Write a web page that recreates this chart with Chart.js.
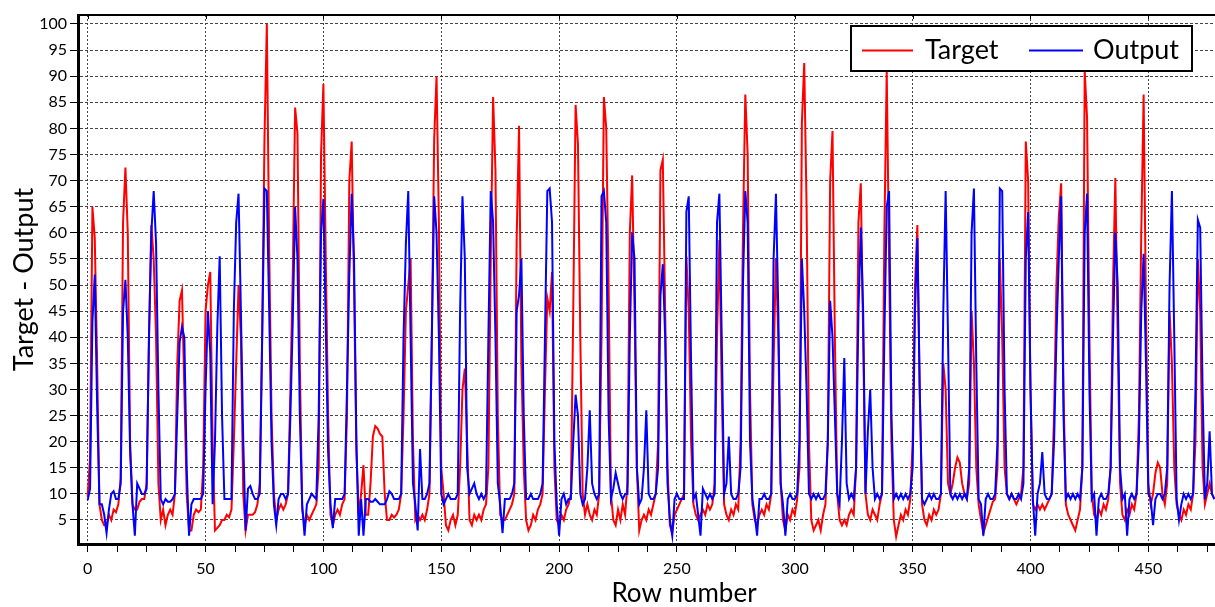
<!DOCTYPE html>
<html><head><meta charset="utf-8">
<script src="https://cdn.jsdelivr.net/npm/chart.js@4.4.1/dist/chart.umd.min.js"></script>
<style>
html,body{margin:0;padding:0;background:#fff;overflow:hidden;width:1215px;height:607px;}
#wrap{width:1215px;height:607px;overflow:hidden;position:relative;}
canvas{display:block;}
</style></head><body>
<div id="wrap"><canvas id="c" width="1290" height="607"></canvas></div>
<script>
// ---- data ----
const target = [
9.5,17,65,59,35,8,5,4,4,6,
5,7,6.5,8,13,62,72.5,60,20,8,
7,7,8.5,9,9,12,40,61.5,55,40,
12,5,7,4,6,7,6,10,35,47,
49,30,10,3,3,6,7,6.5,7,15,
45,50,52.5,20,3,3.5,4,5,5,6,
5.5,7,20,35,50,40,10,3,6,6,
6,6.5,8,12,40,78,100,57,25,10,
5,7,8,7,8,10,30,52,84,79,
35,7,4,6,5,6,7,8,15,75,
88.5,55,25,6,4,6,7,6,8,9,
25,70,77.5,50,18,6,10,15.5,6,6,
12,21,23,22.5,21.5,21,10,5,5,6,
5.5,6,7,10,25,45,50,55,20,5,
6,5,6,5,7,10,40,78,90,62,
15,10,4,3,5,6,4,6,15,30,
34,20,5,4,6,5,6,5,7,8,
15,55,86,72,25,6,5,5,6,7,
8,10,59,80.5,35,15,5,3,4,6,
5,7,8,10,30,47.5,45,52.5,15,5,
4,6,5,7,8,10,45,84.5,77,40,
10,6,8,6,5,7,6,10,40,86,
80,50,10,5,4,7,5,8,6,12,
60,71,45,15,3,5,6,5,7,6,
8,10,20,72,74,45,15,4,2.5,6,
7,8,9,10,55.5,45,20,8,6,5,
6,7,6,8,7,8,12,40,58.6,30,
8,6,5,7,6,8,7,20,60,86.5,
75,30,8,5,4,6,7,6,8,7,
10,35,55,40,12,5,3,6,5,7,
6,9,15,81,92.5,65,20,5,3,4,
5,3,6,8,20,70,79.5,40,10,5,
4,5,4,6,7,6,15,62,69.5,40,
10,6,5,7,6,5,8,10,60,91,
55,20,5,1.8,4,6,5,7,6,9,
20,50,61.5,30,8,5,4,6,5,7,
6,7,10,35,30,12,10,12,15,17,
16,12,10,9,12,45,35,15,8,5,
2.5,4,5.5,7,8.5,9,15,55,40,15,
10,9,10,9,8,9,10,15,77.5,70,
30,8,7,8,7,8,7,8,9,10,
25,50,63,69.5,30,8,6,5,4,3,
5,7,15,91,82,40,10,6,5,7,
6,8,7,9,15,50,70.5,40,12,6,
5,7,6,8,7,10,25,60,86.5,45,
12,8,10,14,16,15,10,8,12,45,
35,15,8,6,5,7,6,8,7,10,
20,55,45,15,8,10,12,10,9
];
const output = [
8.8,11,43,52,27,8,8,6,2.5,7,
10,10.5,9,9,12,45,51,40,18,8,
2,12,11,10,10,11,40,60,68,58,
30,9,8,9,8.5,8.5,9,10,25,39,
42,40,15,2,8,9,9,9,9,10,
30,45,37,8,20,42,55.5,25,9,9,
9,9,45,62,67.5,45,20,3,11,11.5,
10,9,9,10,39,68.5,68,45,20,8,
4,9,10,10,9,10,25,43,65,55,
25,8,2,8,9,10,9.5,9,25,60,
66.5,42,18,8,3.5,9,9,9,9,10,
30,52,67.5,55,20,2,9,2,9,9,
8.5,8.5,9,8.5,8,8,8,9,10.5,10,
9,9,9,10,40,58,68,40,12,8,
3,18.6,9,9,10,12,40,67,60,40,
10,8,9,10,9,9,9,10,45,67,
55,15,10,11,12,10,9,10,9,10,
40,68,62,40,12,8,2.5,9,9,9,
10,12,45,48,55,25,9,9,10,9,
9,9,10,12,40,68,68.5,62,20,8,
2,9,10,8,9,9,20,29,25,10,
8,9,15,26,12,10,9,10,67,68,
62,25,9,11,14,12,10,9,10,10,
40,60,55,15,8,9,15,26,10,9,
9,10,15,48,54,40,12,5,2,9,
10,9,9,9,64,67,35,9,10,6,
2,11,10,9,10,9,10,62,67.5,40,
10,12,21,10,9,9,10,15,50,68,
62,20,9,6,2,9,9,10,9,9,
10,55,67.5,45,12,8,2,9,10,9,
9,10,20,55,45,30,10,9,10,9,
10,9,9,10,20,47,40,25,10,8,
20,36,12,9,10,9,15,45,61,45,
10,22,30,15,9,10,9,10,40,65,
68,25,9,10,9,10,9,10,9,10,
15,45,59,30,9,8,9,10,9,10,
9,9,10,45,68,40,10,9,10,9,
10,9,10,9,15,60,68.5,35,9,8,
2,9,10,9,9,10,20,68.5,68,30,
10,9,10,9,9,10,9,12,55,64,
30,9,2,10,12,18,10,9,9,10,
20,40,55,67,25,9,10,9,10,9,
10,9,15,60,67.5,30,9,10,2,9,
10,9,9,10,15,40,60,50,15,9,
10,2,9,10,9,10,20,45,56,35,
10,9,4,9,10,10,9,10,15,50,
68,40,9,5,8,10,9,10,9,10,
30,62.5,61,30,9,12,22,10,9
];
const seriesNames = ['Target', 'Output'];
const seriesColors = ['#ff0000', '#0000ff'];
const yTickValues = [5,10,15,20,25,30,35,40,45,50,55,60,65,70,75,80,85,90,95,100];
const xMajorTicks = [0,50,100,150,200,250,300,350,400,450];
const xTickMarks = [0,12.5,25,37.5,50,62.5,75,87.5,100,112.5,125,137.5,150,162.5,175,187.5,200,212.5,225,237.5,250,262.5,275,287.5,300,312.5,325,337.5,350,362.5,375,387.5,400,412.5,425,437.5,450,462.5,475,487.5,500];

const toPoints = arr => arr.map((v, i) => ({x: i, y: v}));

const FONT = 'Lato, "Open Sans", sans-serif';

const frame = {
  id: 'frame',
  afterDraw(chart) {
    const {ctx, chartArea: a} = chart;
    const xs = chart.scales.x;
    ctx.save();
    ctx.strokeStyle = '#000';
    ctx.lineWidth = 2;
    ctx.beginPath();
    ctx.moveTo(a.left, a.top);
    ctx.lineTo(a.right, a.top);
    ctx.stroke();
    ctx.lineWidth = 1;
    xMajorTicks.forEach(v => {
      const px = Math.round(xs.getPixelForValue(v)) + 0.5;
      ctx.beginPath(); ctx.moveTo(px, a.top); ctx.lineTo(px, a.top + 4); ctx.stroke();
    });
    // legend
    const bx = 851, by = 26, bw = 341, bh = 45;
    ctx.fillStyle = '#fff';
    ctx.fillRect(bx, by, bw, bh);
    ctx.lineWidth = 2;
    ctx.strokeStyle = '#000';
    ctx.strokeRect(bx, by, bw, bh);
    const items = [
      {x0: 862, x1: 913, tx: 925},
      {x0: 1029, x1: 1083, tx: 1093}
    ];
    ctx.font = '27px ' + FONT;
    ctx.textBaseline = 'alphabetic';
    ctx.textAlign = 'left';
    chart.data.datasets.forEach((ds, i) => {
      const it = items[i];
      ctx.strokeStyle = ds.borderColor;
      ctx.lineWidth = 2;
      ctx.beginPath(); ctx.moveTo(it.x0, 50.5); ctx.lineTo(it.x1, 50.5); ctx.stroke();
      ctx.fillStyle = '#000';
      ctx.fillText(ds.label, it.tx, 59);
    });
    ctx.restore();
  }
};

new Chart(document.getElementById('c'), {
  type: 'line',
  data: {
    datasets: [
      {label: seriesNames[0], data: toPoints(target), borderColor: seriesColors[0], borderWidth: 2, pointRadius: 0, tension: 0, order: 2},
      {label: seriesNames[1], data: toPoints(output), borderColor: seriesColors[1], borderWidth: 2, pointRadius: 0, tension: 0, order: 1}
    ]
  },
  options: {
    responsive: false,
    animation: false,
    devicePixelRatio: 1,
    layout: {padding: {top: 15, right: 0, left: 0, bottom: 0}},
    plugins: {legend: {display: false}, tooltip: {enabled: false}},
    scales: {
      x: {
        type: 'linear',
        min: -4.115,
        max: 510.1,
        afterBuildTicks: s => { s.ticks = xTickMarks.map(v => ({value: v})); },
        afterFit: s => { s.height = 63; },
        grid: {
          color: c => (c.tick && xMajorTicks.includes(c.tick.value)) ? '#444' : 'rgba(0,0,0,0)',
          lineWidth: 1,
          tickColor: '#000',
          tickLength: 8,
          tickWidth: 1,
          tickBorderDash: [],
          drawOnChartArea: true
        },
        border: {display: true, color: '#000', width: 3, dash: [2, 2]},
        ticks: {
          autoSkip: false,
          maxRotation: 0,
          padding: 7,
          color: '#000',
          font: {family: FONT, size: 16},
          callback: v => xMajorTicks.includes(v) ? String(v) : ''
        },
        title: {display: true, text: 'Row number', color: '#000', font: {family: FONT, size: 26, lineHeight: 1}, padding: {top: 0, bottom: 0}}
      },
      y: {
        type: 'linear',
        min: 0.403,
        max: 101.72,
        afterBuildTicks: s => { s.ticks = yTickValues.map(v => ({value: v})); },
        afterFit: s => { s.width = 78; },
        grid: {
          color: '#444',
          lineWidth: 1,
          tickColor: '#000',
          tickLength: 8,
          tickWidth: 1,
          tickBorderDash: []
        },
        border: {display: true, color: '#000', width: 3, dash: [3, 2]},
        ticks: {
          padding: 3,
          color: '#000',
          font: {family: FONT, size: 16},
          callback: v => String(v)
        },
        title: {display: true, text: 'Target - Output', color: '#000', font: {family: FONT, size: 27}, padding: {top: 8, bottom: 0}}
      }
    }
  },
  plugins: [frame]
});
</script>
</body></html>
